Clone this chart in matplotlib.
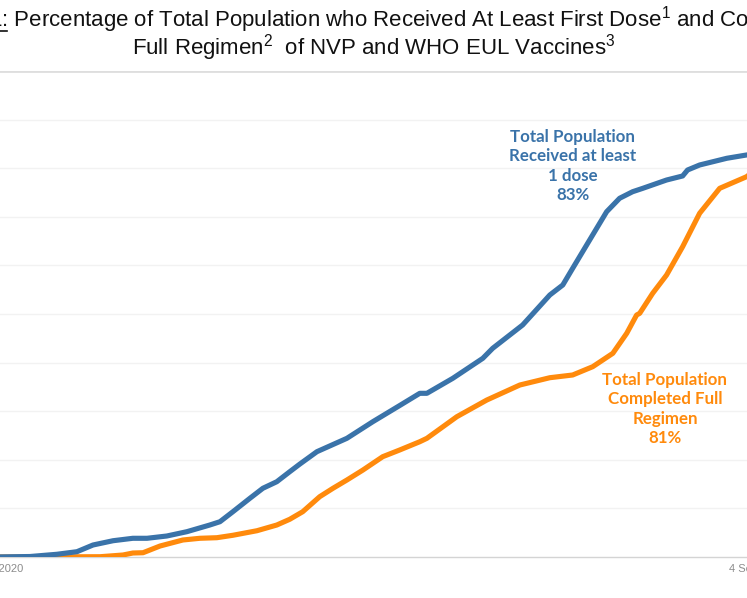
import matplotlib
matplotlib.use('Agg')
import matplotlib.pyplot as plt
from matplotlib.lines import Line2D

# days since 30 Dec 2020, % of total population
first_days=[0,12.3,21.0,27.5,32.7,39.2,45.6,50.2,56.6,63.1,70.5,73.8,78.0,83.5,87.7,92.2,96.4,99.7,105.2,114.9,123.3,132.0,138.5,140.8,149.2,158.9,162.1,171.8,180.6,184.8,188.0,193.5,199.0,203.2,207.4,210.7,218.4,223.6,225.2,229.1,237.9,244.3,249.7]
first_pct=[0,0.1,0.56,1.09,2.47,3.35,3.85,3.85,4.32,5.21,6.58,7.26,9.32,12.08,14.14,15.49,17.55,19.14,21.67,24.42,27.84,31.17,33.68,33.68,36.77,40.88,42.94,47.74,53.91,55.97,59.40,65.23,71.05,73.81,75.16,75.86,77.57,78.40,79.63,80.66,82.04,82.72,83.0]
full_days=[0,35.0,42.4,45.6,48.9,54.4,61.8,67.3,72.8,78.0,85.8,92.2,96.4,100.6,106.1,110.4,114.9,120.1,126.5,132.0,138.5,140.8,150.5,160.2,170.9,180.6,188.0,194.5,201.0,205.5,208.7,209.7,213.9,218.4,223.6,229.1,235.6,244.3,249.7]
full_pct=[0,0.06,0.41,0.82,0.88,2.26,3.50,3.85,3.97,4.47,5.41,6.58,7.76,9.32,12.41,14.14,15.84,17.90,20.64,22.02,23.72,24.42,28.87,32.30,35.39,36.89,37.45,39.16,41.91,46.03,49.79,50.14,54.26,58.02,63.85,70.72,75.86,78.25,81.0]
tick_days=[0,248]
tick_labels=['30 Dec 2020','4 Sep 2021']

plt.rcParams['mathtext.fontset']='custom'
plt.rcParams['mathtext.rm']='Liberation Sans'
plt.rcParams['mathtext.it']='Liberation Sans'

BLUE='#3A73A9'; ORANGE='#FF8A0C'
W,H=747,598; PXD=3.0887; X0=-8   # pixel scale of the crop
fig=plt.figure(figsize=(W/100,H/100),dpi=100)
ax=fig.add_axes([-60/W,41/H,860/W,486/H])
ax.set_xlim((-60-X0)/PXD,(800-X0)/PXD); ax.set_ylim(0,100)
for v in range(10,100,10): ax.axhline(v,color='#f2f2f2',lw=1,zorder=0)
ax.axhline(100,color='#dedede',lw=2,zorder=0)
ax.plot(full_days,full_pct,color=ORANGE,lw=3.7,solid_capstyle='round',solid_joinstyle='round',zorder=3)
ax.plot(first_days,first_pct,color=BLUE,lw=3.7,solid_capstyle='round',solid_joinstyle='round',zorder=4)
for s in ['top','right','left']: ax.spines[s].set_visible(False)
ax.spines['bottom'].set_color('#d4d4d4'); ax.spines['bottom'].set_linewidth(1)
ax.set_yticks([]); ax.set_xticks(tick_days); ax.set_xticklabels(tick_labels)
ax.tick_params(axis='x',length=0,pad=5,labelsize=8,labelcolor='#8c8c8c')
for t in ax.get_xticklabels(): t.set_fontfamily('Liberation Sans')

kw=dict(ha='center',va='center',fontsize=12.2,fontweight='bold',family=['Lato','DejaVu Sans'],linespacing=1.25)
ax.text((573-X0)/PXD,80.45,'Total Population\nReceived at least\n1 dose\n83%',color=BLUE,**kw)
ax.text((665-X0)/PXD,30.45,'Total Population\nCompleted Full\nRegimen\n81%',color=ORANGE,**kw)

tk=dict(ha='center',va='center',fontsize=16,family='Liberation Sans',color='#111111')
fig.text(0.5,1-20/H,'Figure 1: Percentage of Total Population who Received At Least First Dose$^{1}$ and Completed',**tk)
fig.text(0.5,1-48/H,'Full Regimen$^{2}$  of NVP and WHO EUL Vaccines$^{3}$',**tk)
fig.add_artist(Line2D([-0.2,7/W],[1-31/H,1-31/H],color='#111111',lw=1.2,transform=fig.transFigure))
fig.savefig('out.png',dpi=100)
